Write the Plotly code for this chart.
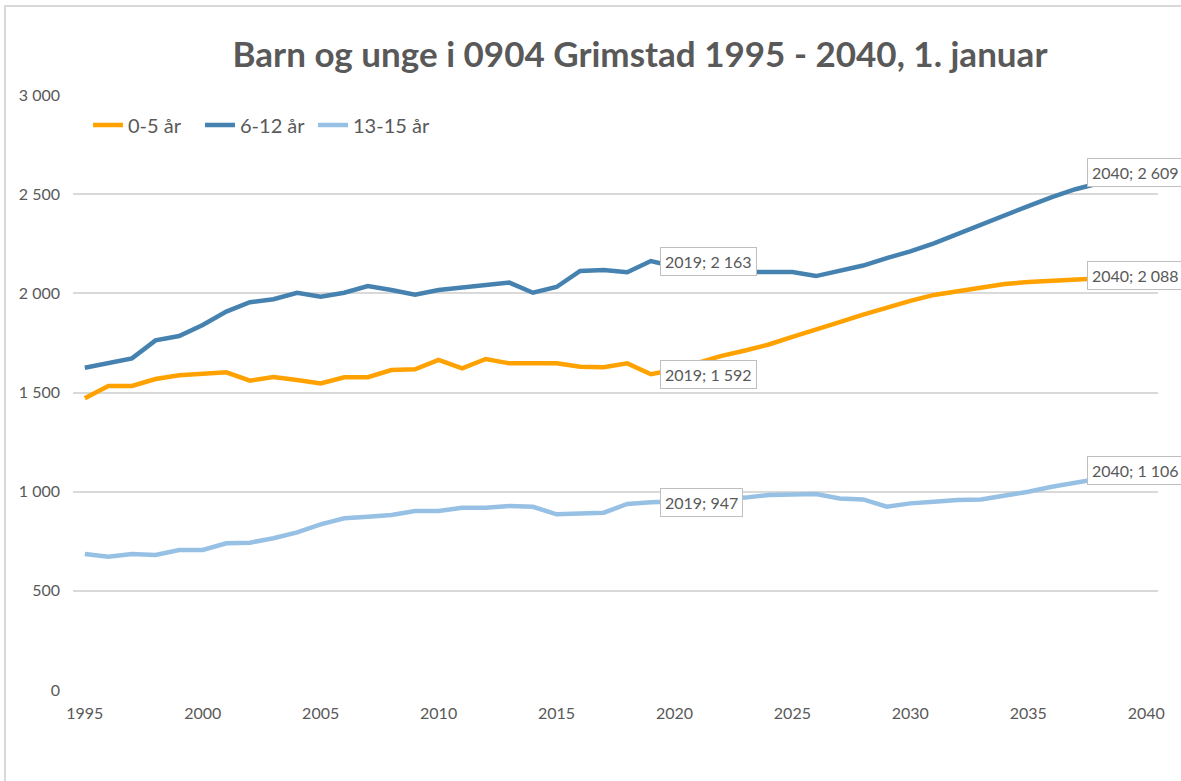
import plotly.graph_objects as go

years = list(range(1995, 2041))

age_0_5 = [1471, 1533, 1533, 1568, 1587, 1597, 1602, 1560, 1578, 1563,
           1546, 1577, 1577, 1613, 1617, 1664, 1622, 1669, 1647, 1647,
           1647, 1630, 1627, 1647, 1592, 1615, 1650, 1685, 1712, 1742,
           1780, 1820, 1855, 1893, 1928, 1962, 1992, 2012, 2032, 2047,
           2057, 2063, 2071, 2078, 2083, 2088]

age_6_12 = [1625, 1647, 1672, 1763, 1785, 1840, 1908, 1955, 1970, 2003,
            1983, 2003, 2037, 2017, 1993, 2017, 2030, 2039, 2054, 2003,
            2032, 2113, 2118, 2106, 2163, 2135, 2115, 2108, 2108, 2108,
            2108, 2087, 2112, 2140, 2178, 2212, 2252, 2300, 2350, 2395,
            2440, 2485, 2525, 2555, 2585, 2609]

age_13_15 = [686, 672, 686, 681, 706, 706, 740, 743, 765, 795,
             835, 866, 874, 882, 902, 902, 919, 919, 928, 924,
             886, 891, 894, 938, 947, 950, 955, 962, 970, 983,
             987, 988, 966, 961, 924, 941, 949, 958, 961, 978,
             1000, 1025, 1045, 1067, 1087, 1106]

series_names = ["0-5 år", "6-12 år", "13-15 år"]
series_colors = ["#FFA200", "#4682B0", "#97C1E4"]
series_values = [age_0_5, age_6_12, age_13_15]

label_years = [2019, 2040]
tick_years = [1995, 2000, 2005, 2010, 2015, 2020, 2025, 2030, 2035, 2040]
y_ticks = [0, 500, 1000, 1500, 2000, 2500, 3000]

FONT = "Lato"
TXT = "#595959"

L, R, T, B = 73, 1158, 95, 690
W, H = R - L, B - T

legend_ids = ["legend", "legend2", "legend3"]
legend_px = [88, 200, 313]

fig = go.Figure()
for name, col, vals, lid in zip(series_names, series_colors, series_values, legend_ids):
    fig.add_trace(go.Scatter(x=years, y=vals, name=name, mode="lines",
                             legend=lid, line=dict(color=col, width=4.5)))


def fmt(v):
    return f"{v:,}".replace(",", " ")


for vals in series_values:
    for yr in label_years:
        v = vals[years.index(yr)]
        fig.add_annotation(
            x=yr, y=v, xref="x", yref="y",
            text=f"{yr}; {fmt(v)}", showarrow=False,
            xanchor="left", yanchor="middle",
            xshift=9 if yr == 2019 else -59,
            font=dict(family=FONT, size=16, color=TXT),
            bgcolor="white", bordercolor="#BFBFBF", borderwidth=1, borderpad=4,
        )

# outer chart border
fig.add_shape(type="rect", xref="paper", yref="paper",
              x0=(5 - L) / W, x1=(1190 - L) / W,
              y0=(B - 790) / H, y1=(B - 6) / H,
              line=dict(color="#D9D9D9", width=2), fillcolor="rgba(0,0,0,0)",
              layer="below")

legend_layout = {}
for lid, px in zip(legend_ids, legend_px):
    legend_layout[lid] = dict(orientation="h", x=(px - L) / W, xanchor="left",
                              y=(B - 125) / H, yanchor="middle",
                              font=dict(family=FONT, size=20, color=TXT),
                              itemwidth=30, bgcolor="rgba(0,0,0,0)")

fig.update_layout(
    width=1181, height=781,
    margin=dict(l=L, r=1181 - R, t=T, b=781 - B),
    paper_bgcolor="white", plot_bgcolor="white",
    separators=", ",
    title=dict(text="<b>Barn og unge i 0904 Grimstad 1995 - 2040, 1. januar</b>",
               x=640 / 1181, xanchor="center", y=1 - 55 / 781, yanchor="middle",
               font=dict(family=FONT, size=35, color=TXT)),
    showlegend=True,
    **legend_layout,
)
fig.update_xaxes(range=[1994.5, 2040.5], tickvals=tick_years,
                 showgrid=False, zeroline=False, showline=False,
                 ticks="", ticklabelstandoff=12,
                 tickfont=dict(family=FONT, size=16, color=TXT))
fig.update_yaxes(range=[0, 3000], tickvals=y_ticks, tickformat=",d",
                 showgrid=True, gridcolor="#D9D9D9", gridwidth=1.5,
                 zeroline=False, showline=False, ticks="", ticklabelstandoff=12,
                 tickfont=dict(family=FONT, size=16, color=TXT))

fig.write_html("out.html", config={"displayModeBar": False},
               post_script="document.body.style.margin='0';document.body.style.overflow='hidden';")
